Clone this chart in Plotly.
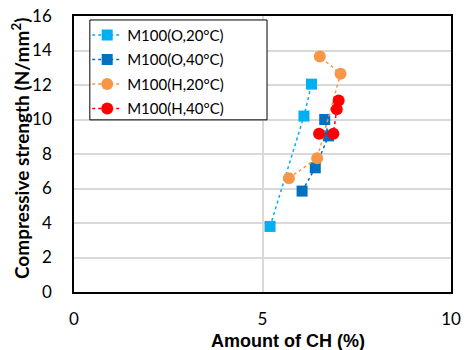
import plotly.graph_objects as go

names = ["M100(O,20°C)", "M100(O,40°C)", "M100(H,20°C)", "M100(H,40°C)"]
x_o20 = [5.2, 6.1, 6.3]
y_o20 = [3.8, 10.2, 12.05]
x_o40 = [6.05, 6.4, 6.75, 6.65]
y_o40 = [5.85, 7.2, 9.05, 10.0]
x_h20 = [5.7, 6.45, 7.07, 6.52]
y_h20 = [6.6, 7.75, 12.65, 13.65]
x_h40 = [6.5, 6.88, 6.97, 7.02]
y_h40 = [9.18, 9.18, 10.6, 11.1]
x_title = "<b>Amount of CH (%)</b>"
y_title = "<b>Compressive strength (N/mm<sup>2</sup>)</b>"

colors = ["#00B0F0", "#0070C0", "#F79646", "#FF0000"]
symbols = ["square", "square", "circle", "circle"]
xs = [x_o20, x_o40, x_h20, x_h40]
ys = [y_o20, y_o40, y_h20, y_h40]

fig = go.Figure()
for i, (n, x, y, c, s) in enumerate(zip(names, xs, ys, colors, symbols)):
    fig.add_trace(go.Scatter(
        x=x, y=y, name=n, mode="lines+markers", legendgroup=f"g{i}",
        line=dict(color=c, width=1.5, dash="dot"),
        marker=dict(color=c, symbol=s, size=11 if s == "square" else 12),
    ))

# legend frame (white box with black outline), drawn above the grid
fig.add_shape(type="rect", xref="x", yref="y", layer="between",
              x0=0.42, x1=5.12, y0=9.98, y1=15.77,
              fillcolor="white", line=dict(color="#000000", width=1))

fig.add_annotation(text=x_title, xref="paper", yref="paper",
                   x=0.5676, y=-0.178, showarrow=False,
                   xanchor="center", yanchor="middle",
                   font=dict(family="Arial", size=18))
fig.add_annotation(text=y_title, xref="paper", yref="paper",
                   x=-0.1432, y=0.518, showarrow=False, textangle=-90,
                   xanchor="center", yanchor="middle",
                   font=dict(family="Lato, Carlito, Arial", size=19))

fig.update_layout(
    width=464, height=350,
    margin=dict(l=74, r=13, t=16, b=58),
    paper_bgcolor="white", plot_bgcolor="white",
    font=dict(family="Lato, Carlito, Arial", size=17, color="#000000"),
    legend=dict(
        x=0.035, y=0.99, xanchor="left", yanchor="top",
        borderwidth=0, bgcolor="rgba(0,0,0,0)",
        font=dict(size=15), itemwidth=30, tracegroupgap=2,
    ),
    xaxis=dict(
        range=[0, 10], tickvals=[0, 5, 10], showgrid=True,
        gridcolor="#D9D9D9", gridwidth=1.5, zeroline=False,
        showline=True, linecolor="#000000", linewidth=1.5, mirror=True,
        ticks="", ticklabelstandoff=11, automargin=False,
    ),
    yaxis=dict(
        range=[0, 16], dtick=2, showgrid=True,
        gridcolor="#D9D9D9", gridwidth=1.5, zeroline=False,
        showline=True, linecolor="#000000", linewidth=1.5, mirror=True,
        ticks="", ticklabelstandoff=17, automargin=False,
    ),
)

fig.write_html("out.html")
